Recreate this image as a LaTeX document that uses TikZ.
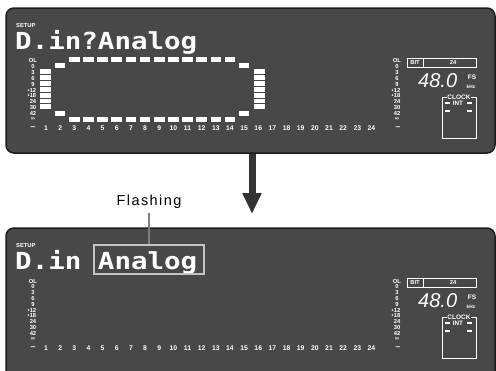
\documentclass[tikz,border=0pt]{standalone}
\usepackage{fontspec}
\setmainfont{Liberation Sans}
\newfontfamily\lcdfont{DejaVu Sans Mono}
\usetikzlibrary{arrows.meta}
\definecolor{panel}{HTML}{484848}
\definecolor{panedge}{HTML}{1C1C1C}
\definecolor{arrowc}{HTML}{333333}
\definecolor{boxc}{HTML}{C4C4C4}

\tikzset{
  lcdpanel/.style={fill=panel,draw=panedge,line width=1.5pt,rounded corners=8pt},
  scl/.style={text=white,inner sep=0pt,font=\bfseries\fontsize{5.8}{5.8}\selectfont},
  numlab/.style={text=white,inner sep=0pt,font=\bfseries\fontsize{6.8}{6.8}\selectfont},
  smalllab/.style={text=white,inner sep=0pt,font=\bfseries\fontsize{5.8}{5.8}\selectfont},
  lcdtext/.style={text=white,inner sep=0pt,anchor=base west},
  segbar/.style={fill=white},
  wline/.style={draw=white,line width=0.8pt}
}

\newcommand\lcdbig[1]{\scalebox{1.17}[1]{\lcdfont\bfseries\fontsize{23.5}{23.5}\selectfont #1}}

\newcommand\panelcommon[1]{%
  \node[smalllab,anchor=west] (#1setup) at (16,25.5) {SETUP};
  \foreach \t [count=\k from 0] in {OL,0,3,6,9,{\llap{•}12},{\llap{•}18},24,30,42,∞} {
    \node[scl] (#1l\k) at (33,61+\k*5.8) {\t};
    \node[scl] (#1r\k) at (397,61+\k*5.8) {\t};
  }
  \foreach \n in {1,...,24} {
    \node[numlab] (#1n\n) at ({46+(\n-1)*14.15},128) {\n};
  }
  \node[numlab,font=\bfseries\fontsize{8.5}{8.5}\selectfont] (#1dl) at (33,128) {–};
  \node[numlab,font=\bfseries\fontsize{8.5}{8.5}\selectfont] (#1dr) at (398,128) {–};
  % BIT box
  \node[wline,minimum width=69pt,minimum height=9pt,inner sep=0pt] (#1bit) at (441.5,62.5) {};
  \draw[wline] (423,58) -- (423,67);
  \node[smalllab] (#1bitl) at (415,62.7) {BIT};
  \node[smalllab] (#1bitv) at (453,62.7) {24};
  % frequency
  \node[lcdtext,font=\itshape\fontsize{20}{20}\selectfont] (#1freq) at (418,87) {48.0};
  \node[smalllab,font=\bfseries\fontsize{6.5}{6.5}\selectfont] (#1fs) at (472,77) {FS};
  \node[smalllab,font=\bfseries\fontsize{4.8}{4.8}\selectfont] (#1khz) at (471,86.5) {kHz};
  % clock box
  \draw[wline] (442,97) rectangle (476,138);
  \node[smalllab,fill=panel,inner xsep=0.8pt,inner ysep=0.5pt,font=\bfseries\fontsize{6.5}{6.5}\selectfont] (#1clk) at (459,97) {CLOCK};
  \node[smalllab,font=\bfseries\fontsize{6.3}{6.3}\selectfont] (#1int) at (458,103.5) {INT};
  \fill[white] (445,102.3) rectangle (449.5,104.3);
  \fill[white] (467,102.3) rectangle (471.5,104.3);
  \fill[white] (445,110.3) rectangle (449.5,112.3);
  \fill[white] (467,110.3) rectangle (471.5,112.3);
}

\begin{document}
\begin{tikzpicture}[x=1pt,y=-1pt]
\useasboundingbox (0,0) rectangle (496,370);
\begin{scope}
\clip (0,0) rectangle (496,370);

% ---------- top panel ----------
\draw[lcdpanel] (6,8) rectangle (495,153);
\node[lcdtext] (title) at (15,49) {\lcdbig{D.in?Analog}};
\panelcommon{t}
% meter bars
\foreach \k in {0,...,6} {
  \fill[segbar] (40,{69+\k*5.9}) rectangle (51,{69+\k*5.9+4.9});
  \fill[segbar] (254,{69+\k*5.9}) rectangle (265,{69+\k*5.9+4.9});
}
% dashed frame
\foreach \c in {3,...,14} {
  \fill[segbar] ({46+(\c-1)*14.15-5.3},57) rectangle ({46+(\c-1)*14.15+5.3},61.5);
  \fill[segbar] ({46+(\c-1)*14.15-5.3},117) rectangle ({46+(\c-1)*14.15+5.3},121.5);
}
\foreach \c in {2,15} {
  \fill[segbar] ({46+(\c-1)*14.15-5.3},63) rectangle ({46+(\c-1)*14.15+5.3},67.5);
  \fill[segbar] ({46+(\c-1)*14.15-5.3},111) rectangle ({46+(\c-1)*14.15+5.3},115.5);
}

% ---------- arrow ----------
\coordinate (atop) at (252,153.5);
\coordinate (atip) at (252,214);
\draw[arrowc,line width=7pt,-{Triangle[width=18pt,length=21pt]}] (atop) -- (atip);

% ---------- bottom panel ----------
\draw[lcdpanel] (6,228) rectangle (495,380);
\begin{scope}[shift={(0,220)}]
  \panelcommon{b}
  \node[lcdtext] (din) at (15,49) {\lcdbig{D.in}};
  \node[lcdtext] (analog) at ({15+5*16.55},49) {\lcdbig{Analog}};
\end{scope}
\node[draw=boxc,line width=1.1pt,minimum width=110pt,minimum height=29pt,inner sep=0pt] (fbox) at (149,259.5) {};

% ---------- Flashing label ----------
\node[inner sep=0pt,font=\fontsize{14.5}{14.5}\selectfont\addfontfeatures{LetterSpace=10}] (flash) at (149,202) {Flashing};
\draw[gray,line width=1.1pt,shorten <=4pt] (flash.south) -- (fbox.north);

\end{scope}
\end{tikzpicture}
\end{document}
